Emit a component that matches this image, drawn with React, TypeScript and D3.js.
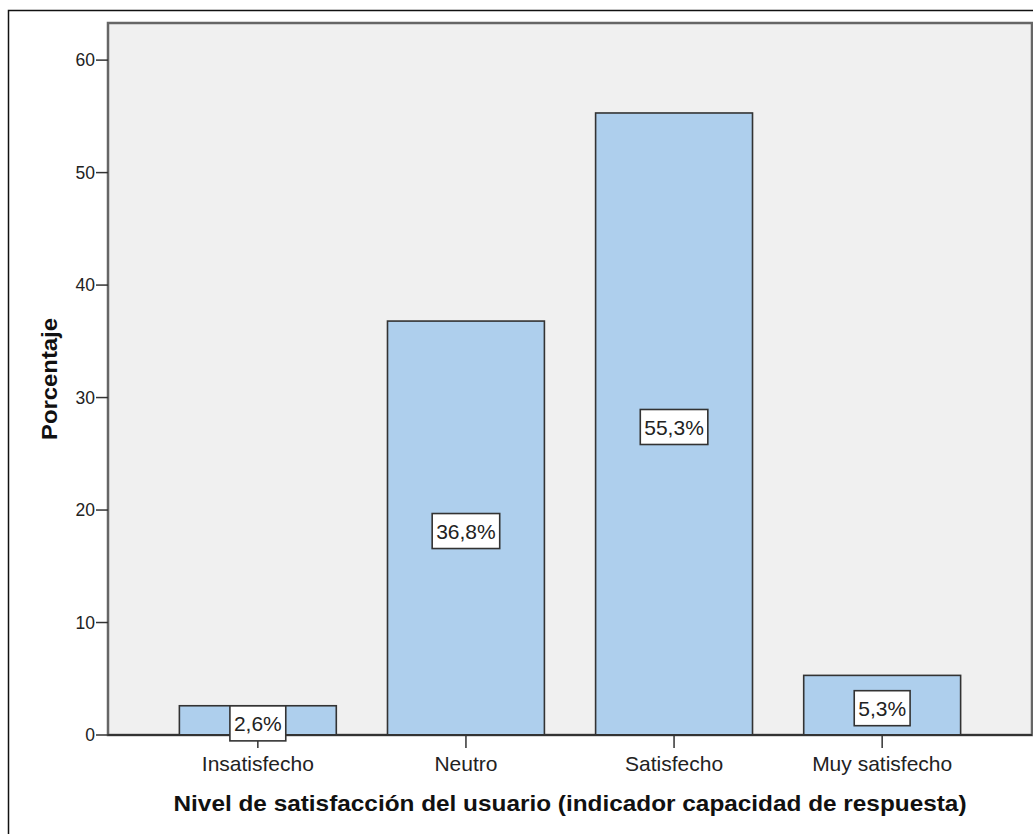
import React from "react";
import * as d3 from "d3";

// Survey results: share of users per satisfaction level
const categories: string[] = ["Insatisfecho", "Neutro", "Satisfecho", "Muy satisfecho"];
const percentages: number[] = [2.6, 36.8, 55.3, 5.3];
const valueLabels: string[] = ["2,6%", "36,8%", "55,3%", "5,3%"];
const yTicks: number[] = [0, 10, 20, 30, 40, 50, 60];

const W = 1033;
const H = 834;
const plot = { left: 108, right: 1032, top: 23, bottom: 735 };
const FONT = "'Liberation Sans', Arial, sans-serif";

// rough Arial advance widths (em) for label box sizing
const charW: Record<string, number> = {
  "0": 0.556, "1": 0.556, "2": 0.556, "3": 0.556, "4": 0.556, "5": 0.556,
  "6": 0.556, "7": 0.556, "8": 0.556, "9": 0.556, ",": 0.278, "%": 0.889,
};
const textWidth = (s: string, size: number) =>
  s.split("").reduce((a, c) => a + (charW[c] ?? 0.556), 0) * size;

export default function App() {
  const x = d3
    .scaleBand<string>()
    .domain(categories)
    .range([plot.left, plot.right])
    .paddingInner(0.246)
    .paddingOuter(0.343);
  const y = d3.scaleLinear().domain([0, 63.3]).range([plot.bottom, plot.top]);

  const labelSize = 21;

  return (
    <svg
      width={W}
      height={H}
      style={{ position: "absolute", left: 0, top: 0, background: "#fff" }}
      fontFamily={FONT}
    >
      {/* outer frame */}
      <rect x={8.5} y={10.5} width={1060} height={860} fill="none" stroke="#111" strokeWidth={1.5} />

      {/* plot background */}
      <rect
        x={plot.left}
        y={plot.top}
        width={plot.right - plot.left}
        height={plot.bottom - plot.top}
        fill="#f0f0f0"
        stroke="#666"
        strokeWidth={2.5}
      />

      {/* bars */}
      {categories.map((c, i) => (
        <rect
          key={c}
          x={x(c)!}
          y={y(percentages[i])}
          width={x.bandwidth()}
          height={y(0) - y(percentages[i])}
          fill="#aecfed"
          stroke="#333"
          strokeWidth={1.6}
        />
      ))}

      {/* x axis line */}
      <line x1={plot.left} x2={plot.right} y1={plot.bottom} y2={plot.bottom} stroke="#333" strokeWidth={1.8} />

      {/* y ticks */}
      {yTicks.map((t) => (
        <g key={t}>
          <line x1={plot.left - 12} x2={plot.left} y1={y(t)} y2={y(t)} stroke="#333" strokeWidth={1.5} />
          <text x={plot.left - 13} y={y(t)} dy="0.36em" textAnchor="end" fontSize={17.5} fill="#222">
            {t}
          </text>
        </g>
      ))}

      {/* x ticks and category labels */}
      {categories.map((c) => {
        const cx = x(c)! + x.bandwidth() / 2;
        return (
          <g key={c}>
            <line x1={cx} x2={cx} y1={plot.bottom} y2={plot.bottom + 13} stroke="#333" strokeWidth={1.5} />
            <text x={cx} y={771} textAnchor="middle" fontSize={21} fill="#222">
              {c}
            </text>
          </g>
        );
      })}

      {/* value labels */}
      {categories.map((c, i) => {
        const cx = x(c)! + x.bandwidth() / 2;
        const cy = y(percentages[i] / 2) + 3;
        const tw = textWidth(valueLabels[i], labelSize);
        const bw = tw + 8;
        const bh = 35;
        return (
          <g key={c}>
            <rect
              x={cx - bw / 2}
              y={cy - bh / 2}
              width={bw}
              height={bh}
              fill="#fff"
              stroke="#333"
              strokeWidth={1.6}
            />
            <text x={cx} y={cy} dy="0.36em" textAnchor="middle" fontSize={labelSize} fill="#222">
              {valueLabels[i]}
            </text>
          </g>
        );
      })}

      {/* axis titles */}
      <text
        x={(plot.left + plot.right) / 2}
        y={811}
        textAnchor="middle"
        fontSize={22}
        fontWeight="bold"
        fill="#111"
        textLength={793}
        lengthAdjust="spacingAndGlyphs"
      >
        Nivel de satisfacción del usuario (indicador capacidad de respuesta)
      </text>
      <text
        transform={`translate(57, ${(plot.top + plot.bottom) / 2}) rotate(-90)`}
        textAnchor="middle"
        fontSize={22}
        fontWeight="bold"
        fill="#111"
        textLength={122}
        lengthAdjust="spacingAndGlyphs"
      >
        Porcentaje
      </text>
    </svg>
  );
}
